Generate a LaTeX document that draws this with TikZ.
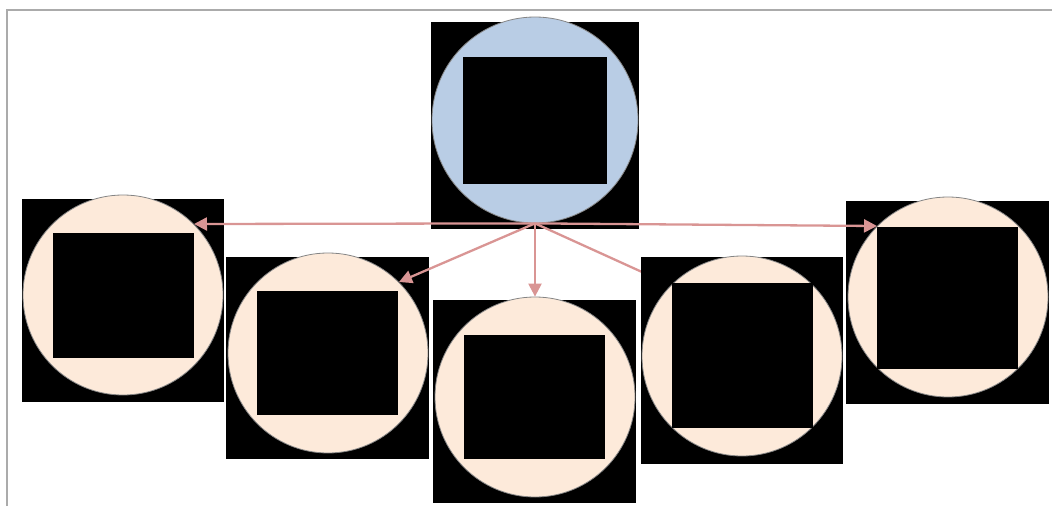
\documentclass[tikz,border=0pt]{standalone}
\usetikzlibrary{arrows.meta,calc}
\definecolor{topblue}{HTML}{B9CDE5}
\definecolor{peach}{HTML}{FDEADA}
\definecolor{arrowc}{HTML}{D99594}
\definecolor{framec}{HTML}{ABABAB}
\definecolor{ringc}{HTML}{858585}
\begin{document}
\begin{tikzpicture}[x=1pt,y=-1pt,
  blk/.style 2 args={fill=black,draw=none,inner sep=0pt,outer sep=0pt,minimum width=#1pt,minimum height=#2pt},
  ring/.style 2 args={circle,fill=#1,draw=ringc,line width=0.8pt,inner sep=0pt,minimum size=#2pt},
  link/.style={draw=arrowc,line width=2.3pt,-{Triangle[length=13pt,width=13pt]}},
  frame/.style={draw=framec,line width=1.5pt}]
\useasboundingbox (0,0) rectangle (1052,506);
\draw[frame] (7,506) -- (7,10) -- (1052,10);
% top node
\node[blk={208}{207}] (tb) at (535,125.5) {};
\node[ring={topblue}{206}] (ct) at (535,120) {};
\node[blk={144}{127}] (ti) at (535,120.5) {};
% node 1
\node[blk={202}{203}] (b1) at (123,300.5) {};
\node[ring={peach}{200}] (c1) at (123,295) {};
\node[blk={141}{125}] (i1) at (123.5,295.5) {};
% node 2
\node[blk={203}{202}] (b2) at (327.5,358) {};
\node[ring={peach}{200}] (c2) at (328,353) {};
\node[blk={141}{124}] (i2) at (327.5,353) {};
% node 3
\node[blk={203}{203}] (b3) at (534.5,401.5) {};
\node[ring={peach}{200}] (c3) at (535,397) {};
\node[blk={141}{124}] (i3) at (534.5,397) {};
% node 5
\node[blk={203}{203}] (b5) at (947.5,302.5) {};
\node[ring={peach}{200}] (c5) at (948,297) {};
\node[blk={141}{142}] (i5) at (947.5,298) {};
% node 4 target point, node drawn later
\coordinate (c4c) at (742,356);
\coordinate (c4t) at ($(c4c)+(-70.7,-70.7)$);
% arrows
\draw[link] (ct.south) -- (c1.45);
\draw[link] (ct.south) -- (c2.45);
\draw[link] (ct.south) -- (c3.north);
\draw[link] (ct.south) -- (c4t);
\draw[link] (ct.south) -- (c5.135);
% node 4 (on top of its arrow)
\node[blk={202}{207}] (b4) at (742,360.5) {};
\node[ring={peach}{200}] (c4) at (c4c) {};
\node[blk={141}{145}] (i4) at (742.5,355.5) {};
\end{tikzpicture}
\end{document}
